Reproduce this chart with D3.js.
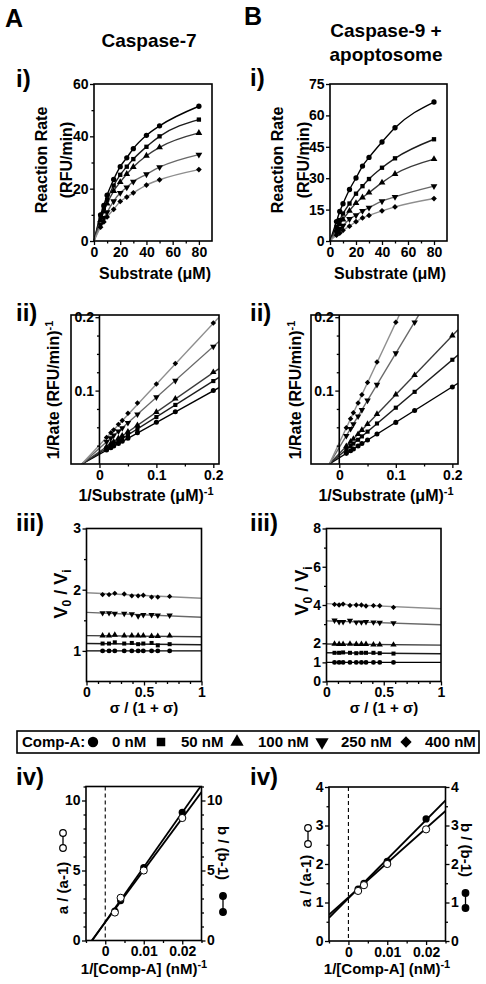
<!DOCTYPE html>
<html><head><meta charset="utf-8">
<script src="https://cdn.jsdelivr.net/npm/d3@7"></script>
<style>
body{margin:0;background:#fff}
svg{display:block}
text{font-family:"Liberation Sans",Arial,sans-serif;font-weight:bold;fill:#000}
</style>
</head><body>
<svg id="c" width="486" height="984"></svg>
<script>
// ---------------- DATA ----------------
const seriesNames = ["0 nM", "50 nM", "100 nM", "250 nM", "400 nM"];
const substrate = [5, 7.5, 10, 15, 20, 25, 30, 40, 50, 80];
const rateA = [
  [10, 13.6, 17.5, 23.5, 28.4, 31.8, 35.3, 40.4, 44, 51.5],
  [9, 12.5, 15.8, 21.2, 25.3, 28.4, 31.3, 36, 40, 46.4],
  [8, 11.3, 14.3, 19.1, 22.5, 25.6, 28.3, 32.6, 35.8, 41.3],
  [6.3, 8.8, 11, 15.2, 18.4, 20.5, 22.7, 25.5, 28.2, 33],
  [5.3, 7.3, 9.2, 12.1, 15.1, 16.8, 18.4, 21.4, 23.4, 27.3]
];
const rateB = [
  [9.3, 14.1, 17.8, 24.6, 30.1, 35.8, 39.9, 47.3, 54.1, 66.4],
  [6.8, 10, 13.1, 17.9, 22.6, 26.2, 29.6, 35, 39.5, 48.6],
  [5.3, 8, 10.3, 14.4, 18.1, 20.8, 23.1, 27.9, 32, 39.1],
  [4.2, 5.9, 7.3, 10.5, 12.3, 14.4, 15.9, 19, 21.1, 26.2],
  [2.8, 3.8, 5.1, 7.1, 9.2, 11, 12.2, 14.4, 16.3, 20.3]
];
const invSubstrate = [0.2, 0.1333, 0.1, 0.0667, 0.05, 0.04, 0.0333, 0.025, 0.02, 0.0125];
const invRateA = [
  [0.100, 0.0712, 0.0568, 0.0425, 0.0352, 0.0310, 0.0280, 0.0246, 0.0222, 0.0190],
  [0.113, 0.0805, 0.0640, 0.0478, 0.0395, 0.0348, 0.0314, 0.0276, 0.0250, 0.0214],
  [0.125, 0.0890, 0.0708, 0.0528, 0.0440, 0.0385, 0.0350, 0.0305, 0.0278, 0.0236],
  [0.160, 0.1135, 0.0910, 0.0676, 0.0560, 0.0490, 0.0445, 0.0390, 0.0354, 0.0302],
  [0.192, 0.1368, 0.1090, 0.0830, 0.0690, 0.0592, 0.0540, 0.0465, 0.0425, 0.0362]
];
const invRateB = [
  [0.105, 0.0730, 0.0567, 0.0408, 0.0326, 0.0278, 0.0244, 0.0205, 0.0181, 0.0145],
  [0.142, 0.0983, 0.0767, 0.0552, 0.0441, 0.0376, 0.0330, 0.0278, 0.0245, 0.0196],
  [0.175, 0.1210, 0.0946, 0.0680, 0.0544, 0.0463, 0.0407, 0.0342, 0.0302, 0.0242],
  [0.280, 0.1930, 0.1510, 0.1080, 0.0866, 0.0737, 0.0650, 0.0545, 0.0480, 0.0385],
  [0.357, 0.2470, 0.1930, 0.1390, 0.1110, 0.0945, 0.0830, 0.0699, 0.0617, 0.0494]
];
const fitIIA_x = [-0.031, 0.21];
const fitIIA_y = [[0, 0.104], [0, 0.118], [0, 0.130], [0, 0.167], [0, 0.200]];
const fitIIB_x = [-0.0176, 0.21];
const fitIIB_y = [[0, 0.110], [0, 0.1485], [0, 0.183], [0, 0.292], [0, 0.373]];

const sigmaA = [0.14, 0.196, 0.246, 0.328, 0.394, 0.449, 0.494, 0.566, 0.62, 0.723];
const sigmaB = [0.07, 0.11, 0.145, 0.205, 0.26, 0.305, 0.345, 0.41, 0.465, 0.585];
const ratioA = [
  [1, 1, 1, 1, 1, 1, 1, 1, 1, 1],
  [1.12, 1.12, 1.14, 1.12, 1.13, 1.11, 1.12, 1.13, 1.09, 1.11],
  [1.25, 1.25, 1.26, 1.25, 1.25, 1.25, 1.25, 1.24, 1.24, 1.25],
  [1.62, 1.62, 1.61, 1.61, 1.60, 1.57, 1.59, 1.59, 1.58, 1.58],
  [1.92, 1.92, 1.94, 1.93, 1.90, 1.90, 1.91, 1.88, 1.88, 1.89]
];
const ratioB = [
  [1, 1, 1, 1, 1, 1, 1, 1, 1, 1],
  [1.5, 1.5, 1.52, 1.5, 1.48, 1.5, 1.5, 1.5, 1.48, 1.46],
  [1.97, 1.95, 1.95, 1.97, 1.95, 1.95, 1.95, 1.93, 1.93, 1.92],
  [3.2, 3.12, 3.12, 3.18, 3.1, 3.1, 3.12, 3.1, 3.08, 3.06],
  [4.03, 4.0, 4.05, 3.98, 4.0, 4.0, 3.95, 3.97, 3.96, 3.88]
];
const fitIII_x = [0, 1];
const fitIIIA_y = [[1, 1], [1.12, 1.10], [1.25, 1.23], [1.63, 1.55], [1.95, 1.86]];
const fitIIIB_y = [[1, 1], [1.5, 1.45], [1.96, 1.9], [3.17, 2.97], [4.07, 3.8]];

const invCompA = [0.0025, 0.004, 0.01, 0.02];
const aA = [2.0, 3.05, 5.0, 8.75];
const bA = [2.1, 2.85, 5.2, 9.15];
const aB = [1.3, 1.45, 2.0, 2.9];
const bB = [1.35, 1.5, 2.07, 3.17];
const fitIVA_a = [[-0.0035, 0], [0.025, 10.6]];
const fitIVA_b = [[-0.0034, 0], [0.025, 11.1]];
const fitIVB_a = [[-0.005, 0.68], [0.025, 3.38]];
const fitIVB_b = [[-0.005, 0.60], [0.025, 3.65]];

// ---------------- STYLE ----------------
const seriesColor = ['#000', '#1c1c1c', '#3a3a3a', '#686868', '#8e8e8e'];
const symTypes = [d3.symbolCircle, d3.symbolSquare, d3.symbolTriangle, d3.symbolTriangle, d3.symbolSquare];
const symRot = [0, 0, 0, 180, 45];
const symScale = [1, 0.85, 0.9, 0.9, 0.75];
const TICK_FS = 14;

const svg = d3.select('#c');
let clipN = 0;

function txt(x, y, s, size, anchor = 'middle', rot = 0) {
  const t = svg.append('text').attr('font-size', size).attr('text-anchor', anchor)
    .attr('transform', `translate(${x},${y}) rotate(${rot})`);
  if (typeof s === 'string') t.text(s);
  else s.forEach(p => {
    const ts = t.append('tspan').text(p.t);
    if (p.dy) ts.attr('dy', p.dy);
    if (p.fs) ts.attr('font-size', p.fs);
  });
  return t;
}

function sym(g, i, cx, cy, size, fill = '#000') {
  g.append('path').attr('d', d3.symbol(symTypes[i], size * symScale[i])())
    .attr('transform', `translate(${cx},${cy}) rotate(${symRot[i]})`)
    .attr('fill', fill);
}

function panel(x0, x1, y0, y1, xd, yd) {
  const x = d3.scaleLinear().domain(xd).range([x0, x1]);
  const y = d3.scaleLinear().domain(yd).range([y1, y0]);
  const g = svg.append('g');
  const id = 'clip' + (clipN++);
  svg.append('clipPath').attr('id', id).append('rect')
    .attr('x', x0).attr('y', y0).attr('width', x1 - x0).attr('height', y1 - y0);
  return { x, y, g, x0, x1, y0, y1, clip: `url(#${id})` };
}

function styleAxis(a) {
  a.select('.domain').remove();
  a.selectAll('.tick line').attr('stroke', '#000').attr('stroke-width', 1.3);
  a.selectAll('.tick text').attr('font-size', TICK_FS).attr('font-family', '"Liberation Sans",Arial,sans-serif')
    .attr('font-weight', 'bold').attr('fill', '#000');
}
function axisBottom(p, vals, minor, fmt, at) {
  const yy = at === undefined ? p.y1 : at;
  const a = p.g.append('g').attr('transform', `translate(0,${yy})`)
    .call(d3.axisBottom(p.x).tickValues(vals).tickSize(4).tickPadding(2).tickSizeOuter(0).tickFormat(fmt || (d => d)));
  styleAxis(a);
  if (minor) {
    const m = p.g.append('g').attr('transform', `translate(0,${yy})`)
      .call(d3.axisBottom(p.x).tickValues(minor).tickSize(2.5).tickSizeOuter(0).tickFormat(''));
    styleAxis(m);
  }
}
function axisLeft(p, vals, minor, fmt, at) {
  const xx = at === undefined ? p.x0 : at;
  const a = p.g.append('g').attr('transform', `translate(${xx},0)`)
    .call(d3.axisLeft(p.y).tickValues(vals).tickSize(4).tickPadding(1.5).tickSizeOuter(0).tickFormat(fmt || (d => d)));
  styleAxis(a);
  if (minor) {
    const m = p.g.append('g').attr('transform', `translate(${xx},0)`)
      .call(d3.axisLeft(p.y).tickValues(minor).tickSize(2.5).tickSizeOuter(0).tickFormat(''));
    styleAxis(m);
  }
}
function axisRight(p, vals, minor) {
  const a = p.g.append('g').attr('transform', `translate(${p.x1},0)`)
    .call(d3.axisRight(p.y).tickValues(vals).tickSize(4).tickPadding(1.5).tickSizeOuter(0).tickFormat(d => d));
  styleAxis(a);
  if (minor) {
    const m = p.g.append('g').attr('transform', `translate(${p.x1},0)`)
      .call(d3.axisRight(p.y).tickValues(minor).tickSize(2.5).tickSizeOuter(0).tickFormat(''));
    styleAxis(m);
  }
}
function frame(p) {
  p.g.append('rect').attr('x', p.x0).attr('y', p.y0).attr('width', p.x1 - p.x0).attr('height', p.y1 - p.y0)
    .attr('fill', 'none').attr('stroke', '#000').attr('stroke-width', 1.6);
}
function seg(p, xs, ys, color, w = 1.4) {
  p.g.append('path').attr('clip-path', p.clip)
    .attr('d', d3.line().x(d => p.x(d[0])).y(d => p.y(d[1]))(xs.map((v, i) => [v, ys[i]])))
    .attr('fill', 'none').attr('stroke', color).attr('stroke-width', w);
}

// ---------------- HEADERS ----------------
txt(5, 27, 'A', 25, 'start');
txt(244, 25, 'B', 25, 'start');
txt(149, 47, 'Caspase-7', 19);
txt(386, 37, 'Caspase-9 +', 19);
txt(386, 61, 'apoptosome', 19);

// ---------------- ROW i ----------------
function drawI(p, rates, yTicks, yMinor) {
  rates.forEach((r, k) => {
    const pts = [[0, 0]].concat(substrate.map((s, j) => [s, r[j]]));
    p.g.append('path').attr('d', d3.line().x(d => p.x(d[0])).y(d => p.y(d[1])).curve(d3.curveMonotoneX)(pts))
      .attr('fill', 'none').attr('stroke', seriesColor[k]).attr('stroke-width', 1.4);
  });
  rates.forEach((r, k) => substrate.forEach((s, j) => sym(p.g, k, p.x(s), p.y(r[j]), 22)));
  frame(p);
  axisBottom(p, [0, 20, 40, 60, 80], [10, 30, 50, 70]);
  axisLeft(p, yTicks, yMinor);
}
const pAi = panel(94, 212, 84, 241, [0, 90], [0, 60]);
drawI(pAi, rateA, [0, 20, 40, 60], [10, 30, 50]);
const pBi = panel(330, 447, 84, 241, [0, 90], [0, 75]);
drawI(pBi, rateB, [0, 15, 30, 45, 60, 75], null);
txt(16, 87, 'i)', 24, 'start');
txt(250, 86, 'i)', 24, 'start');
txt(47, 160, 'Reaction  Rate', 16, 'middle', -90);
txt(71.5, 160, '(RFU/min)', 16, 'middle', -90);
txt(283, 160, 'Reaction  Rate', 16, 'middle', -90);
txt(309, 160, '(RFU/min)', 16, 'middle', -90);
txt(155, 279, 'Substrate (\u03BCM)', 16);
txt(390, 279, 'Substrate (\u03BCM)', 16);

// ---------------- ROW ii ----------------
function drawII(p, inv, fitX, fitY) {
  fitY.forEach((fy, k) => seg(p, fitX, fy, seriesColor[k], 1.4));
  inv.forEach((r, k) => invSubstrate.forEach((s, j) => {
    if (r[j] <= p.y.domain()[1]) sym(p.g, k, p.x(s), p.y(r[j]), 20);
  }));
  frame(p);
  axisBottom(p, [0, 0.1, 0.2], [0.05, 0.15], d => d === 0 ? '0' : d);
  p.g.append('line').attr('x1', p.x(0)).attr('x2', p.x(0)).attr('y1', p.y0).attr('y2', p.y1)
    .attr('stroke', '#000').attr('stroke-width', 1.6);
  axisLeft(p, [0.1, 0.2], [0.025, 0.05, 0.075, 0.125, 0.15, 0.175], d => d, p.x(0));
}
const pAii = panel(71, 219, 315, 464, [-0.05, 0.21], [0, 0.203]);
drawII(pAii, invRateA, fitIIA_x, fitIIA_y);
const pBii = panel(311, 458, 315, 464, [-0.05, 0.21], [0, 0.203]);
drawII(pBii, invRateB, fitIIB_x, fitIIB_y);
txt(16, 321, 'ii)', 24, 'start');
txt(250, 321, 'ii)', 24, 'start');
txt(59, 390, [{ t: '1/Rate  (RFU/min)' }, { t: '-1', dy: -6, fs: 11 }], 16, 'middle', -90);
txt(301, 390, [{ t: '1/Rate  (RFU/min)' }, { t: '-1', dy: -6, fs: 11 }], 16, 'middle', -90);
txt(146, 501, [{ t: '1/Substrate (\u03BCM)' }, { t: '-1', dy: -6, fs: 11 }], 16);
txt(386, 501, [{ t: '1/Substrate (\u03BCM)' }, { t: '-1', dy: -6, fs: 11 }], 16);

// ---------------- ROW iii ----------------
function drawIII(p, sig, ratio, fitY, yTicks, yMinor) {
  fitY.forEach((fy, k) => seg(p, fitIII_x, fy, seriesColor[k], 1.4));
  ratio.forEach((r, k) => sig.forEach((s, j) => sym(p.g, k, p.x(s), p.y(r[j]), 19)));
  frame(p);
  axisBottom(p, [0, 0.5, 1], [0.1, 0.2, 0.3, 0.4, 0.6, 0.7, 0.8, 0.9]);
  axisLeft(p, yTicks, yMinor);
}
const pAiii = panel(86.5, 201.5, 528.5, 681.5, [0, 1], [0.5, 3]);
drawIII(pAiii, sigmaA, ratioA, fitIIIA_y, [1, 2, 3], [1.5, 2.5]);
const pBiii = panel(326.5, 441, 528.5, 681.5, [0, 1], [0, 8]);
drawIII(pBiii, sigmaB, ratioB, fitIIIB_y, [0, 1, 2, 4, 6, 8], [3, 5, 7]);
txt(16, 531, 'iii)', 24, 'start');
txt(250, 531, 'iii)', 24, 'start');
const v0vi = [{ t: 'V' }, { t: '0', dy: 4, fs: 12 }, { t: ' / V', dy: -4 }, { t: 'i', dy: 4, fs: 12 }];
txt(67, 594, v0vi, 18, 'middle', -90);
txt(308, 591, v0vi, 18, 'middle', -90);
txt(144, 713, '\u03C3 / (1 + \u03C3)', 15);
txt(384, 713, '\u03C3 / (1 + \u03C3)', 15);

// ---------------- LEGEND ----------------
svg.append('rect').attr('x', 17).attr('y', 731).attr('width', 462).attr('height', 22)
  .attr('fill', 'none').attr('stroke', '#000').attr('stroke-width', 1.6);
txt(22, 747, 'Comp-A:', 15, 'start');
const legSymX = [93, 161, 237, 322, 406];
const legTxtX = [112, 181, 258, 341, 425];
seriesNames.forEach((n, k) => {
  sym(svg, k, legSymX[k], 742, 85);
  txt(legTxtX[k], 747, n, 15, 'start');
});

// ---------------- ROW iv ----------------
function drawIV(p, aVals, bVals, fitA, fitB, yTicks, yMinor) {
  p.g.append('line').attr('x1', p.x(0)).attr('x2', p.x(0)).attr('y1', p.y0).attr('y2', p.y1)
    .attr('stroke', '#000').attr('stroke-width', 1.1).attr('stroke-dasharray', '4,3');
  seg(p, fitB.map(d => d[0]), fitB.map(d => d[1]), '#000', 1.8);
  seg(p, fitA.map(d => d[0]), fitA.map(d => d[1]), '#000', 1.8);
  invCompA.forEach((c, j) => {
    p.g.append('circle').attr('cx', p.x(c)).attr('cy', p.y(bVals[j])).attr('r', 3.6).attr('fill', '#000');
  });
  invCompA.forEach((c, j) => {
    p.g.append('circle').attr('cx', p.x(c)).attr('cy', p.y(aVals[j])).attr('r', 3.6)
      .attr('fill', '#fff').attr('stroke', '#000').attr('stroke-width', 1);
  });
  frame(p);
  axisBottom(p, [0, 0.01, 0.02], [-0.005, 0.005, 0.015, 0.025]);
  axisLeft(p, yTicks, yMinor);
  axisRight(p, yTicks, yMinor);
}
const pAiv = panel(86, 201.5, 786.5, 940.5, [-0.005, 0.025], [0, 11]);
drawIV(pAiv, aA, bA, fitIVA_a, fitIVA_b, [0, 5, 10], [1, 2, 3, 4, 6, 7, 8, 9, 11]);
const pBiv = panel(329, 445.5, 787, 941, [-0.005, 0.025], [0, 4]);
drawIV(pBiv, aB, bB, fitIVB_a, fitIVB_b, [0, 1, 2, 3, 4], [0.5, 1.5, 2.5, 3.5]);
txt(16, 785, 'iv)', 24, 'start');
txt(250, 785, 'iv)', 24, 'start');

function pairGlyph(cx, yTop, yBot, filled) {
  svg.append('line').attr('x1', cx).attr('x2', cx).attr('y1', yTop).attr('y2', yBot)
    .attr('stroke', '#000').attr('stroke-width', 1.3);
  [yTop, yBot].forEach(yy => svg.append('circle').attr('cx', cx).attr('cy', yy).attr('r', 3.3)
    .attr('fill', filled ? '#000' : '#fff').attr('stroke', '#000').attr('stroke-width', 1.2));
}
txt(68, 888, 'a / (a-1)', 15, 'middle', -90);
pairGlyph(63, 833, 848, false);
txt(218, 853, 'b / (b-1)', 15, 'middle', 90);
pairGlyph(223, 896, 912, true);
txt(311, 881, 'a / (a-1)', 15, 'middle', -90);
pairGlyph(308, 828, 844, false);
txt(461, 850, 'b / (b-1)', 15, 'middle', 90);
pairGlyph(465.5, 893, 908, true);
txt(144, 974, [{ t: '1/[Comp-A] (nM)' }, { t: '-1', dy: -6, fs: 11 }], 15);
txt(387, 974, [{ t: '1/[Comp-A] (nM)' }, { t: '-1', dy: -6, fs: 11 }], 15);
</script>
</body></html>
